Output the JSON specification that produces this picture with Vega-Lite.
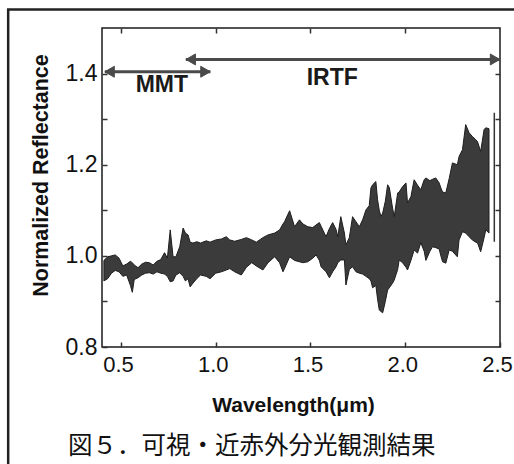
{
  "$schema": "https://vega.github.io/schema/vega-lite/v6.json",
  "autosize": "none",
  "width": 398,
  "height": 319,
  "padding": {"left": 102, "top": 28, "right": 14, "bottom": 117},
  "background": "white",
  "config": {
    "view": {"stroke": "#1a1a1a", "strokeWidth": 1.5},
    "font": "Liberation Sans"
  },
  "title": {
    "text": "図５．可視・近赤外分光観測結果",
    "orient": "bottom",
    "anchor": "start",
    "frame": "group",
    "dx": -34,
    "offset": -50,
    "font": "Noto Sans CJK JP",
    "fontSize": 24.5,
    "fontWeight": "normal",
    "color": "#111111"
  },
  "datasets": {
    "spectrum": [
      {"wl": 0.41, "hi": 0.990, "lo": 0.945},
      {"wl": 0.43, "hi": 0.998, "lo": 0.950},
      {"wl": 0.45, "hi": 1.000, "lo": 0.962},
      {"wl": 0.47, "hi": 1.002, "lo": 0.968},
      {"wl": 0.49, "hi": 0.995, "lo": 0.965},
      {"wl": 0.51, "hi": 0.978, "lo": 0.955},
      {"wl": 0.53, "hi": 0.982, "lo": 0.958},
      {"wl": 0.55, "hi": 0.988, "lo": 0.935},
      {"wl": 0.56, "hi": 0.985, "lo": 0.920},
      {"wl": 0.57, "hi": 0.980, "lo": 0.948},
      {"wl": 0.59, "hi": 0.974, "lo": 0.952},
      {"wl": 0.61, "hi": 0.982, "lo": 0.958},
      {"wl": 0.63, "hi": 0.986, "lo": 0.962},
      {"wl": 0.65, "hi": 0.985, "lo": 0.963},
      {"wl": 0.67, "hi": 0.980, "lo": 0.960},
      {"wl": 0.69, "hi": 0.988, "lo": 0.965},
      {"wl": 0.71, "hi": 0.992, "lo": 0.962},
      {"wl": 0.73, "hi": 1.007, "lo": 0.960},
      {"wl": 0.745, "hi": 0.995, "lo": 0.955},
      {"wl": 0.76, "hi": 1.057, "lo": 0.943},
      {"wl": 0.775, "hi": 0.998, "lo": 0.945},
      {"wl": 0.79, "hi": 0.998, "lo": 0.958},
      {"wl": 0.81, "hi": 1.020, "lo": 0.963},
      {"wl": 0.828, "hi": 1.061, "lo": 0.955},
      {"wl": 0.84, "hi": 1.050, "lo": 0.945},
      {"wl": 0.854, "hi": 1.046, "lo": 0.950},
      {"wl": 0.865, "hi": 1.030, "lo": 0.932},
      {"wl": 0.88, "hi": 1.028, "lo": 0.940},
      {"wl": 0.90, "hi": 1.031, "lo": 0.950},
      {"wl": 0.92, "hi": 1.028, "lo": 0.958},
      {"wl": 0.95, "hi": 1.033, "lo": 0.955},
      {"wl": 0.97, "hi": 1.030, "lo": 0.950},
      {"wl": 1.00, "hi": 1.035, "lo": 0.962},
      {"wl": 1.03, "hi": 1.037, "lo": 0.965},
      {"wl": 1.056, "hi": 1.042, "lo": 0.969},
      {"wl": 1.074, "hi": 1.035, "lo": 0.972},
      {"wl": 1.10, "hi": 1.032, "lo": 0.965},
      {"wl": 1.135, "hi": 1.036, "lo": 0.958},
      {"wl": 1.162, "hi": 1.040, "lo": 0.975},
      {"wl": 1.19, "hi": 1.035, "lo": 0.985},
      {"wl": 1.214, "hi": 1.030, "lo": 0.978},
      {"wl": 1.249, "hi": 1.040, "lo": 0.969},
      {"wl": 1.276, "hi": 1.046, "lo": 0.985},
      {"wl": 1.311, "hi": 1.050, "lo": 0.998},
      {"wl": 1.337, "hi": 1.057, "lo": 0.985},
      {"wl": 1.355, "hi": 1.070, "lo": 0.965},
      {"wl": 1.363, "hi": 1.075, "lo": 0.972},
      {"wl": 1.39, "hi": 1.099, "lo": 0.998},
      {"wl": 1.416, "hi": 1.064, "lo": 0.990},
      {"wl": 1.442, "hi": 1.079, "lo": 0.987},
      {"wl": 1.46, "hi": 1.070, "lo": 0.985},
      {"wl": 1.486, "hi": 1.064, "lo": 0.987},
      {"wl": 1.512, "hi": 1.062, "lo": 0.995},
      {"wl": 1.53, "hi": 1.068, "lo": 1.002},
      {"wl": 1.547, "hi": 1.073, "lo": 0.990},
      {"wl": 1.556, "hi": 1.065, "lo": 0.976},
      {"wl": 1.582, "hi": 1.042, "lo": 0.965},
      {"wl": 1.60, "hi": 1.060, "lo": 0.952},
      {"wl": 1.617, "hi": 1.073, "lo": 0.965},
      {"wl": 1.635, "hi": 1.058, "lo": 0.976},
      {"wl": 1.644, "hi": 1.042, "lo": 0.985},
      {"wl": 1.66, "hi": 1.086, "lo": 0.991},
      {"wl": 1.679, "hi": 1.050, "lo": 0.991},
      {"wl": 1.687, "hi": 1.024, "lo": 0.936},
      {"wl": 1.705, "hi": 1.040, "lo": 0.970},
      {"wl": 1.722, "hi": 1.086, "lo": 0.976},
      {"wl": 1.74, "hi": 1.075, "lo": 0.965},
      {"wl": 1.758, "hi": 1.064, "lo": 0.962},
      {"wl": 1.775, "hi": 1.079, "lo": 0.960},
      {"wl": 1.793, "hi": 1.101, "lo": 0.955},
      {"wl": 1.81, "hi": 1.110, "lo": 0.950},
      {"wl": 1.819, "hi": 1.149, "lo": 0.945},
      {"wl": 1.828, "hi": 1.156, "lo": 0.930},
      {"wl": 1.845, "hi": 1.163, "lo": 0.935},
      {"wl": 1.854, "hi": 1.123, "lo": 0.905},
      {"wl": 1.863, "hi": 1.100, "lo": 0.881},
      {"wl": 1.872, "hi": 1.086, "lo": 0.878},
      {"wl": 1.881, "hi": 1.094, "lo": 0.875},
      {"wl": 1.895, "hi": 1.120, "lo": 0.900},
      {"wl": 1.907, "hi": 1.156, "lo": 0.925},
      {"wl": 1.916, "hi": 1.150, "lo": 0.930},
      {"wl": 1.933, "hi": 1.105, "lo": 0.940},
      {"wl": 1.942, "hi": 1.086, "lo": 0.947},
      {"wl": 1.96, "hi": 1.138, "lo": 0.970},
      {"wl": 1.968, "hi": 1.140, "lo": 0.991},
      {"wl": 1.986, "hi": 1.152, "lo": 0.985},
      {"wl": 2.004, "hi": 1.160, "lo": 0.975},
      {"wl": 2.012, "hi": 1.116, "lo": 0.969},
      {"wl": 2.03, "hi": 1.130, "lo": 0.990},
      {"wl": 2.047, "hi": 1.167, "lo": 1.013},
      {"wl": 2.065, "hi": 1.155, "lo": 1.006},
      {"wl": 2.082, "hi": 1.145, "lo": 1.029},
      {"wl": 2.10, "hi": 1.167, "lo": 1.010},
      {"wl": 2.109, "hi": 1.171, "lo": 0.990},
      {"wl": 2.13, "hi": 1.165, "lo": 1.010},
      {"wl": 2.144, "hi": 1.168, "lo": 1.020},
      {"wl": 2.161, "hi": 1.171, "lo": 1.018},
      {"wl": 2.179, "hi": 1.160, "lo": 1.015},
      {"wl": 2.188, "hi": 1.149, "lo": 1.000},
      {"wl": 2.197, "hi": 1.140, "lo": 0.987},
      {"wl": 2.214, "hi": 1.138, "lo": 0.984},
      {"wl": 2.232, "hi": 1.170, "lo": 1.013},
      {"wl": 2.249, "hi": 1.204, "lo": 1.010},
      {"wl": 2.275, "hi": 1.200, "lo": 0.998},
      {"wl": 2.284, "hi": 1.218, "lo": 1.035},
      {"wl": 2.302, "hi": 1.233, "lo": 1.053},
      {"wl": 2.319, "hi": 1.288, "lo": 1.050},
      {"wl": 2.337, "hi": 1.270, "lo": 1.042},
      {"wl": 2.354, "hi": 1.262, "lo": 1.035},
      {"wl": 2.372, "hi": 1.255, "lo": 1.030},
      {"wl": 2.381, "hi": 1.251, "lo": 1.029},
      {"wl": 2.398, "hi": 1.229, "lo": 1.009},
      {"wl": 2.416, "hi": 1.277, "lo": 1.040},
      {"wl": 2.425, "hi": 1.281, "lo": 1.057},
      {"wl": 2.442, "hi": 1.279, "lo": 1.050}
    ],
    "errbar": [
      {"wl": 2.47, "lo": 1.031, "hi": 1.314}
    ],
    "arrows": [
      {"name": "MMT", "x1": 0.415, "x2": 0.972, "y": 1.404},
      {"name": "IRTF", "x1": 0.842, "x2": 2.5, "y": 1.431}
    ],
    "heads": [
      {"name": "MMT", "x": 0.44, "y": 1.404, "dir": "triangle-left"},
      {"name": "MMT", "x": 0.946, "y": 1.404, "dir": "triangle-right"},
      {"name": "IRTF", "x": 0.868, "y": 1.431, "dir": "triangle-left"},
      {"name": "IRTF", "x": 2.474, "y": 1.431, "dir": "triangle-right"}
    ],
    "labels": [
      {"name": "MMT", "x": 0.716, "y": 1.376},
      {"name": "IRTF", "x": 1.615, "y": 1.391}
    ],
    "frame": [
      {"x0": -0.095, "x1": 2.75, "y0": 0.5, "y1": 1.5407}
    ]
  },
  "resolve": {"axis": {"x": "independent", "y": "independent"}},
  "layer": [
    {
      "data": {"name": "frame"},
      "mark": {"type": "rect", "fillOpacity": 0, "stroke": "#222222", "strokeWidth": 2.5, "clip": false},
      "encoding": {
        "x": {"field": "x0", "type": "quantitative", "scale": {"domain": [0.4, 2.5], "zero": false, "nice": false}, "axis": null},
        "x2": {"field": "x1"},
        "y": {"field": "y0", "type": "quantitative", "scale": {"domain": [0.8, 1.5], "zero": false, "nice": false}, "axis": null},
        "y2": {"field": "y1"}
      }
    },
    {
      "data": {"name": "spectrum"},
      "mark": {"type": "area", "fill": "#3b3b3b", "stroke": "#1e1e1e", "strokeWidth": 1, "interpolate": "linear"},
      "encoding": {
        "x": {
          "field": "wl", "type": "quantitative",
          "scale": {"domain": [0.4, 2.5], "zero": false, "nice": false},
          "axis": {
            "orient": "bottom", "values": [0.5, 1, 1.5, 2, 2.5], "format": ".1f",
            "title": "Wavelength(μm)", "grid": false, "domain": false,
            "tickSize": -5, "tickWidth": 1.5, "tickColor": "#333333",
            "labelFont": "Liberation Sans", "labelFontSize": 22, "labelColor": "#111111",
            "labelPadding": 12, "labelFlush": false, "labelOffset": -3,
            "titleFont": "Liberation Sans", "titleFontSize": 21, "titleFontWeight": "bold", "titleColor": "#111111",
            "titleX": 191, "titleY": 58, "titleBaseline": "middle", "titleAlign": "center"
          }
        },
        "y": {
          "field": "hi", "type": "quantitative",
          "scale": {"domain": [0.8, 1.5], "zero": false, "nice": false},
          "axis": {
            "orient": "left", "values": [0.8, 0.9, 1.0, 1.1, 1.2, 1.3, 1.4],
            "labelExpr": "indexof(['0.8','1.0','1.2','1.4'], format(datum.value, '.1f')) >= 0 ? format(datum.value, '.1f') : ''",
            "title": "Normalized Reflectance", "grid": false, "domain": false,
            "tickSize": -5, "tickWidth": 1.5, "tickColor": "#333333",
            "labelFont": "Liberation Sans", "labelFontSize": 23, "labelColor": "#111111",
            "labelPadding": 10, "labelBaseline": "middle",
            "titleFont": "Liberation Sans", "titleFontSize": 21.5, "titleFontWeight": "bold", "titleColor": "#111111",
            "titleX": -61, "titleY": 147, "titleAngle": -90, "titleBaseline": "middle", "titleAlign": "center"
          }
        },
        "y2": {"field": "lo"}
      }
    },
    {
      "data": {"name": "errbar"},
      "mark": {"type": "rule", "stroke": "#333333", "strokeWidth": 1.5},
      "encoding": {
        "x": {"field": "wl", "type": "quantitative", "scale": {"domain": [0.4, 2.5], "zero": false, "nice": false}, "axis": null},
        "y": {"field": "lo", "type": "quantitative", "scale": {"domain": [0.8, 1.5], "zero": false, "nice": false}, "axis": null},
        "y2": {"field": "hi"}
      }
    },
    {
      "data": {"name": "arrows"},
      "mark": {"type": "rule", "stroke": "#4a4a4a", "strokeWidth": 3},
      "encoding": {
        "x": {
          "field": "x1", "type": "quantitative",
          "scale": {"domain": [0.4, 2.5], "zero": false, "nice": false},
          "axis": {"orient": "top", "values": [0.5, 1, 1.5, 2], "labels": false, "title": null, "grid": false, "domain": false, "tickSize": -5, "tickWidth": 1.5, "tickColor": "#333333"}
        },
        "x2": {"field": "x2"},
        "y": {
          "field": "y", "type": "quantitative",
          "scale": {"domain": [0.8, 1.5], "zero": false, "nice": false},
          "axis": {"orient": "right", "values": [0.9, 1.0, 1.1, 1.2, 1.3, 1.4], "labels": false, "title": null, "grid": false, "domain": false, "tickSize": -5, "tickWidth": 1.5, "tickColor": "#333333"}
        }
      }
    },
    {
      "data": {"name": "heads"},
      "mark": {"type": "point", "filled": true, "fill": "#4a4a4a", "stroke": "#4a4a4a", "strokeWidth": 1, "opacity": 1, "size": 120},
      "encoding": {
        "x": {"field": "x", "type": "quantitative", "scale": {"domain": [0.4, 2.5], "zero": false, "nice": false}, "axis": null},
        "y": {"field": "y", "type": "quantitative", "scale": {"domain": [0.8, 1.5], "zero": false, "nice": false}, "axis": null},
        "shape": {"field": "dir", "type": "nominal", "scale": {"domain": ["triangle-left", "triangle-right"], "range": ["triangle-left", "triangle-right"]}, "legend": null}
      }
    },
    {
      "data": {"name": "labels"},
      "mark": {"type": "text", "font": "Liberation Sans", "fontSize": 23, "fontWeight": "bold", "fill": "#1a1a1a", "align": "center", "baseline": "middle"},
      "encoding": {
        "x": {"field": "x", "type": "quantitative", "scale": {"domain": [0.4, 2.5], "zero": false, "nice": false}, "axis": null},
        "y": {"field": "y", "type": "quantitative", "scale": {"domain": [0.8, 1.5], "zero": false, "nice": false}, "axis": null},
        "text": {"field": "name", "type": "nominal"}
      }
    }
  ]
}
